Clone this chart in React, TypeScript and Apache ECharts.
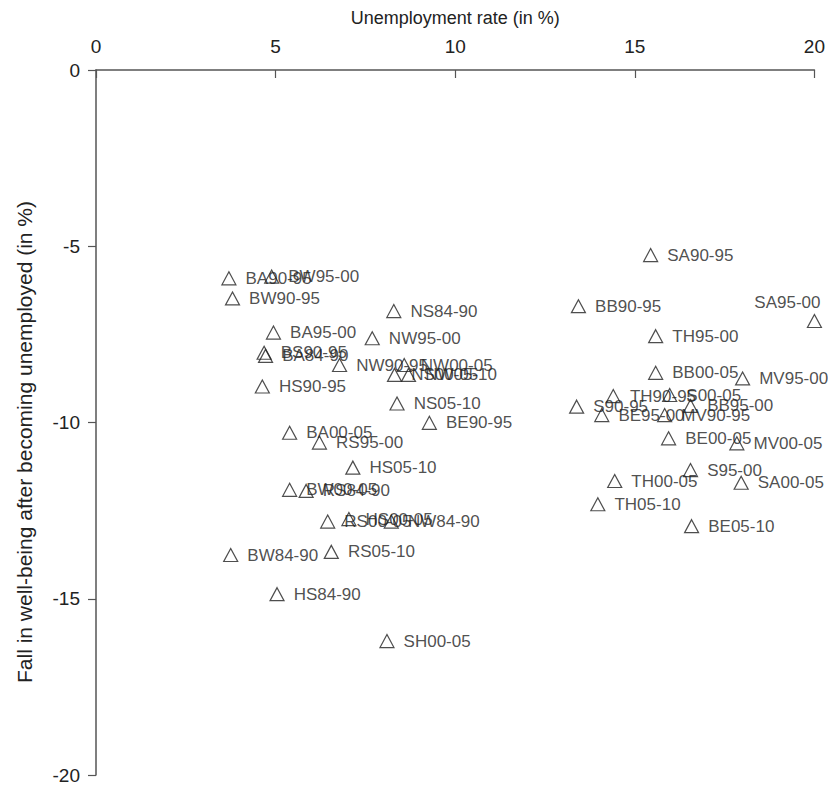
import React, { useEffect, useRef } from "react";
import * as echarts from "echarts";

const pointNames = [
  "BA90-95", "BW95-00", "BW90-95", "NS84-90", "BA95-00", "NW95-00", "BS90-95", "BA84-90",
  "NW90-95", "NW00-05", "NS00-05", "NW05-10", "HS90-95", "NS05-10", "BE90-95", "BA00-05",
  "RS95-00", "HS05-10", "BW00-05", "RS84-90", "RS00-05", "HS00-05", "NW84-90", "BW84-90",
  "RS05-10", "HS84-90", "SH00-05", "SA90-95", "BB90-95", "SA95-00", "TH95-00", "BB00-05",
  "MV95-00", "TH90-95", "S00-05", "S90-95", "BB95-00", "BE95-00", "MV90-95", "BE00-05",
  "MV00-05", "S95-00", "TH00-05", "SA00-05", "TH05-10", "BE05-10",
];

const unemploymentRate = [
  3.70, 4.89, 3.80, 8.29, 4.94, 7.69, 4.68, 4.72,
  6.78, 8.58, 8.31, 8.70, 4.63, 8.38, 9.28, 5.39,
  6.22, 7.15, 5.39, 5.85, 6.45, 7.04, 8.22, 3.75,
  6.55, 5.04, 8.10, 15.44, 13.43, 20.0, 15.58, 15.58,
  18.0, 14.40, 15.97, 13.38, 16.55, 14.08, 15.83, 15.94,
  17.84, 16.55, 14.44, 17.96, 13.97, 16.58,
];

const wellBeingFall = [
  -5.91, -5.86, -6.48, -6.84, -7.45, -7.61, -8.02, -8.11,
  -8.37, -8.37, -8.65, -8.65, -8.98, -9.46, -10.01, -10.29,
  -10.57, -11.28, -11.91, -11.94, -12.81, -12.74, -12.81, -13.76,
  -13.67, -14.87, -16.20, -5.25, -6.70, -7.12, -7.55, -8.59,
  -8.75, -9.25, -9.22, -9.55, -9.53, -9.79, -9.79, -10.45,
  -10.59, -11.35, -11.66, -11.71, -12.32, -12.94,
];

const xTicks = { min: 0, max: 20, interval: 5 };
const yTicks = { min: -20, max: 0, interval: 5 };

const xTitle = "Unemployment rate (in %)";
const yTitle = "Fall in well-being after becoming unemployed (in %)";

const FONT = "'Liberation Sans', Arial, Helvetica, sans-serif";
const TEXT = "#222";
const AXIS = "#555";

export default function App() {
  const ref = useRef<HTMLDivElement>(null);

  useEffect(() => {
    document.body.style.margin = "0";
    if (!ref.current) return;
    const chart = echarts.init(ref.current, undefined, { renderer: "svg" });

    const data = pointNames.map((name, i) => {
      const item: any = { name, value: [unemploymentRate[i], wellBeingFall[i]] };
      if (name === "SA95-00") {
        item.label = { position: "top", distance: 3, offset: [-27, 0] };
      }
      return item;
    });

    chart.setOption({
      animation: false,
      backgroundColor: "#fff",
      grid: { left: 96, top: 70, right: 12, bottom: 10, containLabel: false },
      xAxis: {
        type: "value",
        position: "top",
        min: xTicks.min,
        max: xTicks.max,
        interval: xTicks.interval,
        name: xTitle,
        nameLocation: "middle",
        nameGap: 43,
        nameTextStyle: { color: TEXT, fontSize: 18, fontFamily: FONT },
        axisLine: { onZero: false, lineStyle: { color: AXIS, width: 1.5 } },
        axisTick: { inside: true, length: 8, lineStyle: { color: AXIS, width: 1.2 } },
        axisLabel: { color: TEXT, fontSize: 19, fontFamily: FONT, margin: 14 },
        splitLine: { show: false },
      },
      yAxis: {
        type: "value",
        min: yTicks.min,
        max: yTicks.max,
        interval: yTicks.interval,
        axisLine: { show: true, onZero: false, lineStyle: { color: AXIS, width: 1.5 } },
        axisTick: { show: true, length: 8, lineStyle: { color: AXIS, width: 1.2 } },
        axisLabel: { color: TEXT, fontSize: 19, fontFamily: FONT, margin: 16 },
        splitLine: { show: false },
      },
      graphic: [
        {
          type: "text",
          x: 24,
          y: 442,
          rotation: Math.PI / 2,
          style: {
            text: yTitle,
            fill: TEXT,
            fontSize: 21,
            fontFamily: FONT,
            align: "center",
            verticalAlign: "middle",
          },
        },
      ],
      series: [
        {
          type: "scatter",
          clip: false,
          symbol: "triangle",
          symbolSize: [14, 13],
          itemStyle: { color: "transparent", borderColor: "#222", borderWidth: 1.2 },
          label: {
            show: true,
            position: "right",
            distance: 9,
            formatter: "{b}",
            color: TEXT,
            fontSize: 17,
            fontFamily: FONT,
          },
          emphasis: { disabled: true },
          data,
        },
      ],
    });

    return () => chart.dispose();
  }, []);

  return <div ref={ref} style={{ width: 828, height: 785 }} />;
}
